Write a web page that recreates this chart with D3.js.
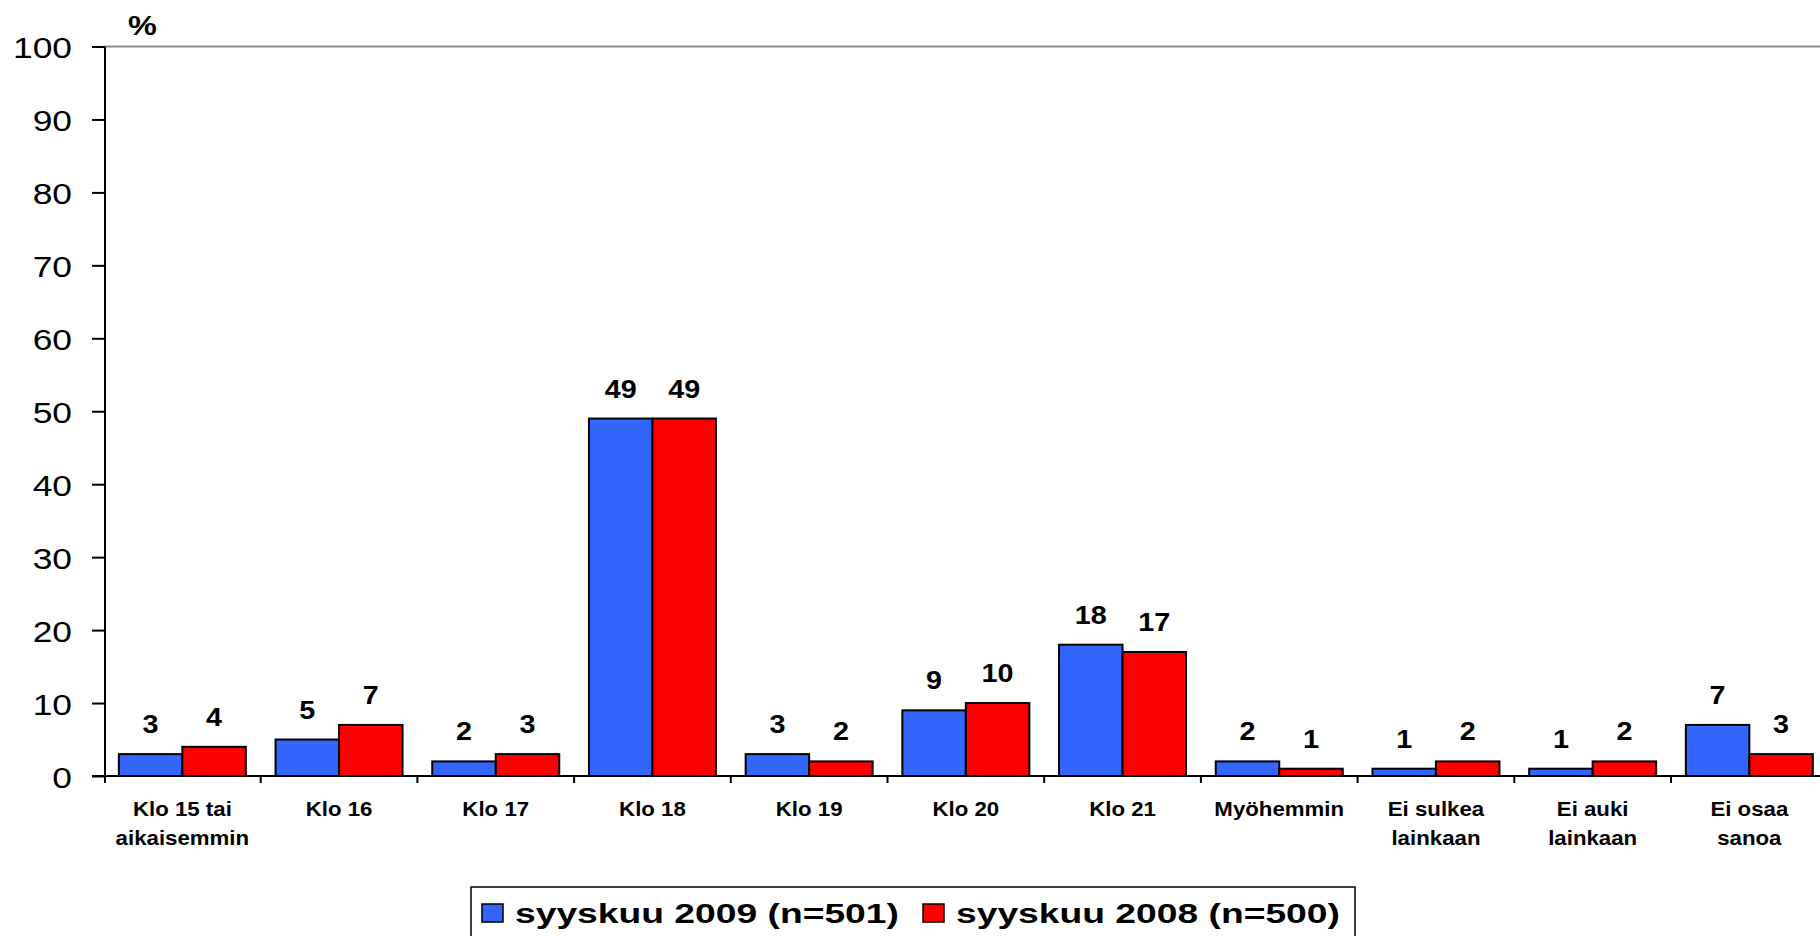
<!DOCTYPE html>
<html>
<head>
<meta charset="utf-8">
<script src="https://cdn.jsdelivr.net/npm/d3@7"></script>
<style>
  html, body { margin: 0; padding: 0; background: #fff; overflow: hidden; }
  svg { display: block; font-family: "Liberation Sans", Arial, Helvetica, sans-serif; }
</style>
</head>
<body>
<svg id="chart" width="1820" height="936"></svg>
<script>
// ---- data ----
const categories = [
  ["Klo 15 tai", "aikaisemmin"],
  ["Klo 16"],
  ["Klo 17"],
  ["Klo 18"],
  ["Klo 19"],
  ["Klo 20"],
  ["Klo 21"],
  ["Myöhemmin"],
  ["Ei sulkea", "lainkaan"],
  ["Ei auki", "lainkaan"],
  ["Ei osaa", "sanoa"]
];
const seriesNames = ["syyskuu 2009 (n=501)", "syyskuu 2008 (n=500)"];
const values2009 = [3, 5, 2, 49, 3, 9, 18, 2, 1, 1, 7];
const values2008 = [4, 7, 3, 49, 2, 10, 17, 1, 2, 2, 3];
const seriesColors = ["#3366FF", "#FF0000"];
const yTicks = [0, 10, 20, 30, 40, 50, 60, 70, 80, 90, 100];
const yUnit = "%";

// ---- layout ----
const svg = d3.select("#chart");
const left = 104, step = 156.7;
const y0 = 776, yTop = 46.5;
const catKeys = categories.map((c, i) => i);
const allSeries = [values2009, values2008];

const x = d3.scaleBand().domain(catKeys).range([left, left + step * categories.length]).paddingInner(0).paddingOuter(0);
const x1 = d3.scaleBand().domain([0, 1]).range([0, x.bandwidth()]).paddingInner(0).paddingOuter(0.234);
const y = d3.scaleLinear().domain([0, 100]).range([y0, yTop]);

// top gray border line
svg.append("line")
  .attr("x1", 105).attr("x2", 1820)
  .attr("y1", y(100)).attr("y2", y(100))
  .attr("stroke", "#8c8c8c").attr("stroke-width", 2);

// y axis
const yAxis = svg.append("g")
  .attr("transform", "translate(105,0)")
  .call(d3.axisLeft(y).tickValues(yTicks).tickSize(13).tickSizeOuter(0));
yAxis.select(".domain").remove();
yAxis.selectAll(".tick line").attr("stroke", "#000").attr("stroke-width", 2);
const ySx = 1.18;
yAxis.selectAll(".tick text")
  .attr("font-size", 30)
  .attr("fill", "#000")
  .attr("font-family", "'Liberation Sans', Arial, sans-serif")
  .attr("text-anchor", "end")
  .attr("dy", null)
  .attr("y", 11)
  .attr("x", -33 / ySx)
  .attr("transform", `scale(${ySx},1)`);

// bars
const groups = svg.append("g").selectAll("g.cat")
  .data(catKeys)
  .join("g")
  .attr("class", "cat")
  .attr("transform", d => `translate(${x(d)},0)`);

groups.selectAll("rect")
  .data(i => allSeries.map((s, k) => ({ k, v: s[i] })))
  .join("rect")
  .attr("x", d => x1(d.k))
  .attr("width", x1.bandwidth())
  .attr("y", d => y(d.v))
  .attr("height", d => y0 - y(d.v))
  .attr("fill", d => seriesColors[d.k])
  .attr("stroke", "#000")
  .attr("stroke-width", 2);

// value labels
const vSx = 1.15;
groups.selectAll("text.val")
  .data(i => allSeries.map((s, k) => ({ k, v: s[i] })))
  .join("text")
  .attr("class", "val")
  .attr("transform", d => `translate(${x1(d.k) + x1.bandwidth() / 2},${y(d.v) - 21}) scale(${vSx},1)`)
  .attr("text-anchor", "middle")
  .attr("font-size", 25)
  .attr("font-weight", "bold")
  .attr("fill", "#000")
  .text(d => d.v);

// y axis vertical line
svg.append("line")
  .attr("x1", 105).attr("x2", 105)
  .attr("y1", y(100)).attr("y2", y0 + 7)
  .attr("stroke", "#000").attr("stroke-width", 2);

// x axis line
svg.append("line")
  .attr("x1", 92).attr("x2", 1820)
  .attr("y1", y0).attr("y2", y0)
  .attr("stroke", "#000").attr("stroke-width", 2);

// category boundary ticks
const boundaries = catKeys.map(i => x(i)).concat([x(catKeys.length - 1) + x.bandwidth()]);
svg.append("g").selectAll("line")
  .data(boundaries.slice(1))
  .join("line")
  .attr("x1", d => d).attr("x2", d => d)
  .attr("y1", y0).attr("y2", y0 + 7)
  .attr("stroke", "#000").attr("stroke-width", 2);

// category labels
const cSx = 1.06;
const catText = svg.append("g").selectAll("text")
  .data(catKeys)
  .join("text")
  .attr("transform", d => `translate(${x(d) + x.bandwidth() / 2},816) scale(${cSx},1)`)
  .attr("text-anchor", "middle")
  .attr("font-size", 21)
  .attr("font-weight", "bold")
  .attr("fill", "#000");
catText.selectAll("tspan")
  .data(d => categories[d])
  .join("tspan")
  .attr("x", 0)
  .attr("dy", (d, j) => j === 0 ? 0 : 29)
  .text(d => d);

// unit label
svg.append("text")
  .attr("transform", "translate(128,35) scale(1.2,1)")
  .attr("font-size", 27)
  .attr("font-weight", "bold")
  .attr("fill", "#000")
  .text(yUnit);

// legend
const legend = svg.append("g");
legend.append("rect")
  .attr("x", 471).attr("y", 887)
  .attr("width", 884).attr("height", 80)
  .attr("fill", "#fff").attr("stroke", "#000").attr("stroke-width", 1.5);
const legendX = [482, 923];
const lSx = 1.33;
seriesNames.forEach((name, k) => {
  legend.append("rect")
    .attr("x", legendX[k]).attr("y", 904)
    .attr("width", 21).attr("height", 18)
    .attr("fill", seriesColors[k]).attr("stroke", "#000").attr("stroke-width", 1.5);
  legend.append("text")
    .attr("transform", `translate(${legendX[k] + 33},923) scale(${lSx},1)`)
    .attr("font-size", 28)
    .attr("font-weight", "bold")
    .attr("fill", "#000")
    .text(name);
});
</script>
</body>
</html>
